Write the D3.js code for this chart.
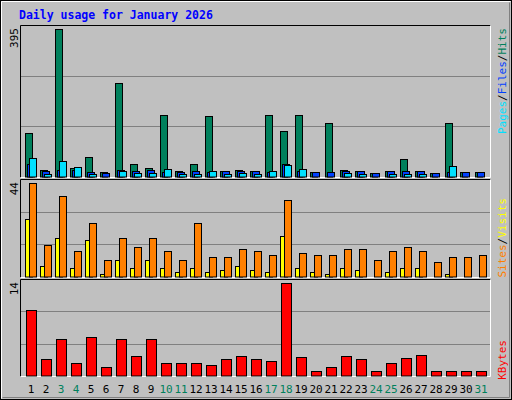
<!DOCTYPE html><html><head><meta charset="utf-8"><script src="https://cdn.jsdelivr.net/npm/d3@7"></script>
<style>body{margin:0;background:#fff}text{font-family:"DejaVu Sans Mono",monospace}</style></head><body>
<svg id="c" width="512" height="400"></svg>
<script>
const days=d3.range(1,32).map(String);
const weekend=["3","4","10","11","17","18","24","25","31"];
const hits=[116,18,395,22,53,12,251,34,22,164,15,34,162,15,18,15,164,122,164,12,143,18,15,9,15,47,15,9,143,12,12];
const files=[34,15,18,18,12,9,18,15,18,12,12,15,12,15,15,15,12,34,15,12,12,15,15,9,15,15,15,9,12,12,12];
const pages=[50,7,42,26,7,0,15,9,9,21,7,7,15,7,9,7,15,31,21,0,0,9,7,0,7,7,7,0,29,0,0];
const visits=[44,15,38,12,25,8,18,14,18,12,8,25,9,9,13,12,10,36,11,10,10,13,13,8,12,14,12,7,9,9,10];
const sites=[27,5,18,4,17,1,8,4,8,4,2,4,2,3,5,3,2,19,4,2,1,4,3,0,2,4,4,0,1,0,0];
const kbytes=[9.86,2.5,5.57,1.89,5.88,1.28,5.57,2.96,5.57,1.89,1.89,1.89,1.58,2.5,2.96,2.5,2.2,14,2.8,0.66,1.28,2.96,2.5,0.66,1.89,2.66,3.1,0.66,0.66,0.66,0.66];
const svg=d3.select("#c");
svg.append("rect").attr("x",0).attr("y",0).attr("width",512).attr("height",400).attr("fill","#c0c0c0");
svg.append("rect").attr("x",0.5).attr("y",0.5).attr("width",511).attr("height",399).attr("fill","none").attr("stroke","#000");
svg.append("path").attr("d","M1.5,398.5V1.5H510.5").attr("fill","none").attr("stroke","#fff");
svg.append("path").attr("d","M2.5,397.5H509.5V2.5").attr("fill","none").attr("stroke","#808080");
svg.append("text").attr("x",19).attr("y",19).attr("fill","#0000ff").attr("font-weight","bold").attr("font-size","11.5px").text("Daily usage for January 2026");
const x=d3.scaleBand().domain(days).range([21,486]).paddingInner(0).paddingOuter(0);
const panels=[{t:25,b:177,max:395},{t:179,b:277,max:44},{t:279,b:376,max:14}];
panels.forEach(p=>{
  svg.append("path").attr("d",`M20.5,${p.b+0.5}V${p.t+0.5}H490.5`).attr("fill","none").attr("stroke","#000");
  svg.append("path").attr("d",`M20.5,${p.b+0.5}H490.5V${p.t+0.5}`).attr("fill","none").attr("stroke","#fff");
  p.y=d3.scaleLinear().domain([0,p.max]).range([p.b-0.5,p.t+4]);
  [1/3,2/3].forEach(f=>{const yy=Math.round(p.b-(p.b-p.t)*f)+0.5;
    svg.append("line").attr("x1",21).attr("x2",490).attr("y1",yy).attr("y2",yy).attr("stroke","#808080");});
  svg.append("text").attr("transform",`translate(18,${p.t+3}) rotate(-90)`).attr("text-anchor","end").attr("font-size","11px").text(p.max);
});
function bars(data,p,off,w,col){
  svg.append("g").selectAll("rect").data(data.map((v,i)=>[days[i],v]).filter(d=>d[1]>0)).join("rect")
   .attr("x",d=>x(d[0])+off+0.5).attr("width",w).attr("y",d=>Math.round(p.y(d[1]))+0.5)
   .attr("height",d=>p.b-0.5-Math.round(p.y(d[1]))).attr("fill",col).attr("stroke","#000");
}
bars(hits,panels[0],4,7,"#00805c");
bars(files,panels[0],6,7,"#0040ff");
bars(pages,panels[0],8,7,"#00e0ff");
bars(sites,panels[1],4,7,"#ffff00");
bars(visits,panels[1],8,7,"#ff8000");
bars(kbytes,panels[2],5,10,"#ff0000");
svg.append("g").selectAll("text").data(days).join("text").attr("x",d=>x(d)+10).attr("y",393)
 .attr("text-anchor","middle").attr("font-size","11px").attr("fill",d=>weekend.includes(d)?"#00805c":"#000").text(d=>d);
function legend(parts,yTop){
  const t=svg.append("text").attr("transform",`translate(506,${yTop}) rotate(-90)`).attr("text-anchor","end").attr("font-size","11px");
  parts.forEach(([s,c])=>t.append("tspan").attr("fill",c).text(s));
}
legend([["Pages","#00e0ff"],["/","#000"],["Files","#0040ff"],["/","#000"],["Hits","#00805c"]],28);
legend([["Sites","#ff8000"],["/","#000"],["Visits","#ffff00"]],198);
legend([["KBytes","#ff0000"]],340);
</script></body></html>
